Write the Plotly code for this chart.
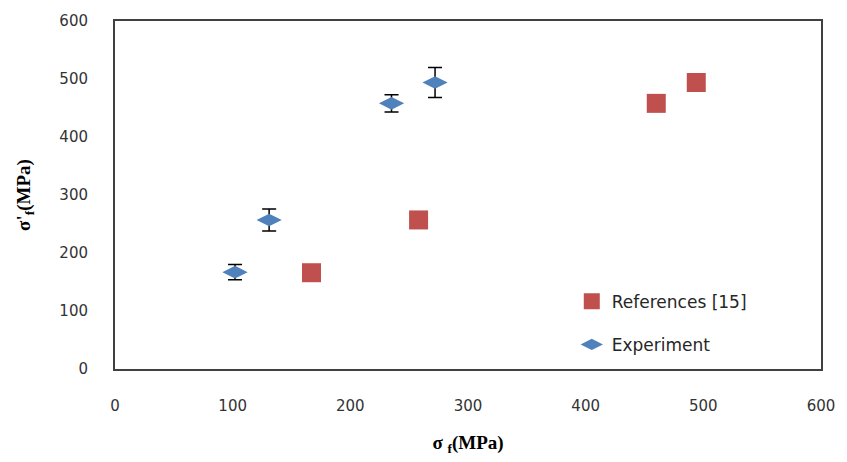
import plotly.graph_objects as go

# Reference data [15]
ref_x = [167, 258, 460, 494]
ref_y = [166, 257, 458, 494]

# Experimental data with scatter (standard deviation)
exp_x = [102, 131, 235, 272]
exp_y = [167, 257, 458, 494]
exp_err = [13, 19, 15, 26]

tick_vals = [0, 100, 200, 300, 400, 500, 600]

fig = go.Figure()

fig.add_trace(go.Scatter(
    x=ref_x, y=ref_y, mode="markers", name="References [15]",
    legendgroup="ref",
    marker=dict(symbol="square", size=19, color="#C0504D",
                line=dict(width=0)),
))

fig.add_trace(go.Scatter(
    x=exp_x, y=exp_y, mode="markers", name="Experiment",
    legendgroup="exp",
    marker=dict(symbol="diamond-wide", size=18, color="#4F81BD",
                line=dict(width=0)),
    error_y=dict(type="data", array=exp_err, visible=True,
                 color="black", thickness=1.5, width=7),
))

axis_common = dict(
    range=[0, 600], tickvals=tick_vals, showgrid=False, zeroline=False,
    showline=True, mirror=True, linecolor="#404040", linewidth=2,
    ticks="", tickfont=dict(family="DejaVu Sans", size=15, color="#333333"),
    ticklabelstandoff=22,
)

fig.update_layout(
    width=847, height=462,
    margin=dict(l=115, r=16, t=17, b=89),
    paper_bgcolor="white", plot_bgcolor="white",
    xaxis=dict(axis_common,
               title=dict(text="σ <sub>f</sub>(MPa)", standoff=22,
                          font=dict(family="Liberation Serif", size=19,
                                    color="black", weight="bold"))),
    yaxis=dict(axis_common,
               title=dict(text="σ'<sub>f</sub>(MPa)", standoff=24,
                          font=dict(family="Liberation Serif", size=19,
                                    color="black", weight="bold"))),
    legend=dict(x=0.647, y=0.245, xanchor="left", yanchor="top",
                traceorder="grouped", tracegroupgap=18,
                font=dict(family="DejaVu Sans", size=17, color="#262626"),
                bgcolor="rgba(0,0,0,0)"),
    showlegend=True,
)

fig.write_html("out.html")
